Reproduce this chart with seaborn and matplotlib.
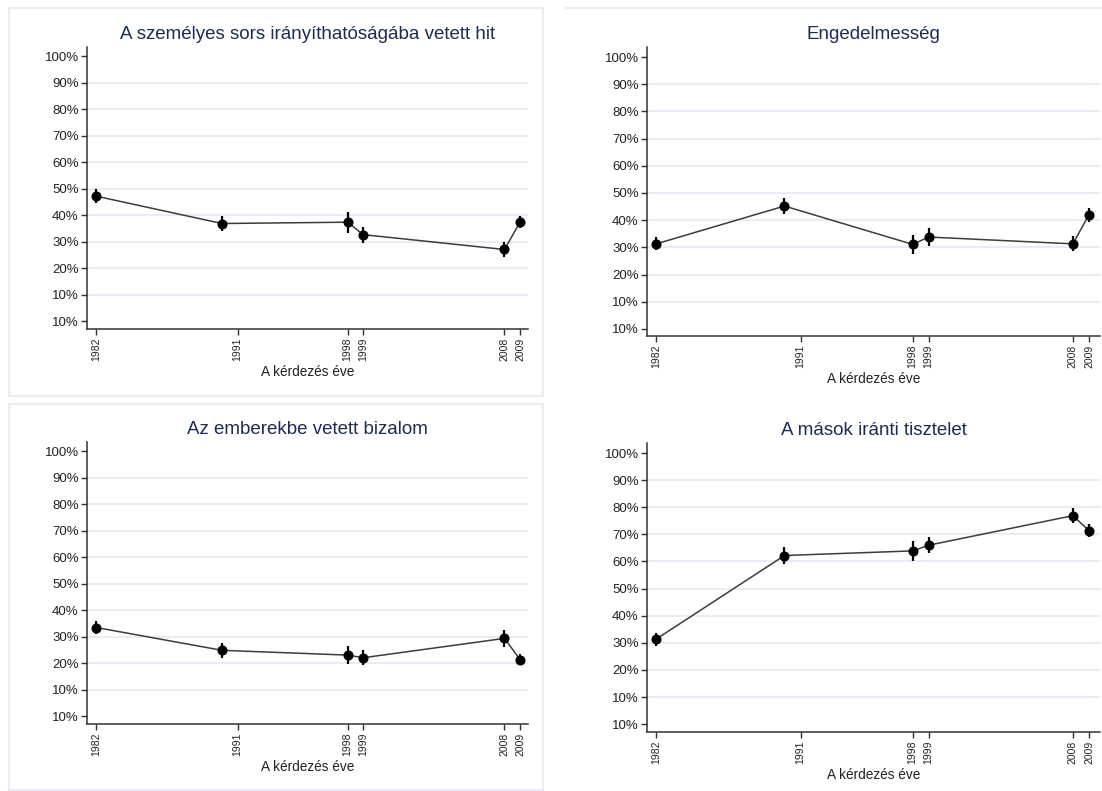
import pandas as pd
import numpy as np
import seaborn as sns
import matplotlib.pyplot as plt
from matplotlib.lines import Line2D
from matplotlib.patches import Rectangle

# survey years (points) and the year ticks shown on the axis
years = [1982, 1990, 1998, 1999, 2008, 2009]
tick_years = [1982, 1991, 1998, 1999, 2008, 2009]
ytick_vals = [0, 10, 20, 30, 40, 50, 60, 70, 80, 90, 100]
ytick_labels = ["10%", "10%", "20%", "30%", "40%", "50%", "60%", "70%", "80%", "90%", "100%"]

titles = ["A személyes sors irányíthatóságába vetett hit",
          "Engedelmesség",
          "Az emberekbe vetett bizalom",
          "A mások iránti tisztelet"]

sors = [47.1, 36.8, 37.3, 32.6, 27.0, 37.4]
sors_err = [2.6, 2.8, 3.9, 3.0, 2.8, 2.2]

engedelmesseg = [31.3, 45.2, 31.1, 33.8, 31.3, 42.0]
engedelmesseg_err = [2.4, 3.1, 3.6, 3.2, 2.8, 2.6]

bizalom = [33.4, 24.8, 23.0, 22.0, 29.3, 21.3]
bizalom_err = [2.6, 2.8, 3.5, 2.8, 3.1, 2.0]

tisztelet = [31.4, 62.2, 63.9, 66.0, 76.9, 71.4]
tisztelet_err = [2.4, 3.0, 3.6, 2.9, 2.7, 2.3]

values = [sors, engedelmesseg, bizalom, tisztelet]
errors = [sors_err, engedelmesseg_err, bizalom_err, tisztelet_err]

sns.set_theme(style="white")
plt.rcParams['font.family'] = ['Liberation Sans', 'DejaVu Sans']

W, H = 1102, 791
fig = plt.figure(figsize=(W / 100, H / 100), dpi=100)

# faint panel frames (pixel coords)
frame_col = "#ebebf3"
for (x0, y0, x1, y1) in [(9, 8, 543, 396), (9, 404, 543, 790)]:
    fig.add_artist(Rectangle((x0 / W, 1 - y1 / H), (x1 - x0) / W, (y1 - y0) / H,
                             transform=fig.transFigure, fill=False,
                             edgecolor=frame_col, lw=1.3))
fig.add_artist(Line2D([566 / W, 1], [1 - 8 / H, 1 - 8 / H],
                      transform=fig.transFigure, color=frame_col, lw=1.3))

# axes boxes: left, top, right, bottom (px) and limits
boxes = [(87, 47, 528, 329), (647, 47, 1100, 336),
         (87, 442, 528, 724), (647, 443, 1100, 732)]
xlims = [(1981.4, 2009.5), (1981.42, 2009.69), (1981.4, 2009.5), (1981.42, 2009.69)]
ylims = [(-3.0, 103.4), (-2.6, 103.7), (-3.0, 103.4), (-2.9, 103.7)]

for i in range(4):
    l, t, r, b = boxes[i]
    ax = fig.add_axes([l / W, 1 - b / H, (r - l) / W, (b - t) / H])
    df = pd.DataFrame({"ev": years, "arany": values[i]})

    for g in range(10, 100, 10):
        ax.axhline(g, color="#e4e9f1", lw=1.2, zorder=0)

    sns.lineplot(data=df, x="ev", y="arany", ax=ax, color="#3c3c3c", lw=1.1,
                 marker="o", markersize=6.5, markerfacecolor="black",
                 markeredgecolor="black", zorder=3)
    ax.errorbar(years, values[i], yerr=errors[i], fmt="none", ecolor="black",
                elinewidth=1.6, capsize=0, zorder=2)

    ax.set_xlim(*xlims[i])
    ax.set_ylim(*ylims[i])
    ax.set_xticks(tick_years)
    ax.set_xticklabels([str(y) for y in tick_years], rotation=90, fontsize=7.5,
                       color="#222222")
    ax.set_yticks(ytick_vals)
    ax.set_yticklabels(ytick_labels, fontsize=9.5, color="#222222")
    ax.tick_params(axis="both", which="major", direction="out", length=4,
                   width=1, color="#333333", pad=2, bottom=True, left=True)
    ax.set_xlabel("A kérdezés éve", fontsize=9.8, color="#222222", labelpad=3)
    ax.set_ylabel("")
    ax.set_title(titles[i], fontsize=13.5, color="#1e2b55", pad=6)

    for s in ["top", "right"]:
        ax.spines[s].set_visible(False)
    for s in ["left", "bottom"]:
        ax.spines[s].set_color("#333333")
        ax.spines[s].set_linewidth(1.1)
    ax.set_facecolor("white")
    ax.grid(False)

plt.savefig("out.png", dpi=100, facecolor="white")
